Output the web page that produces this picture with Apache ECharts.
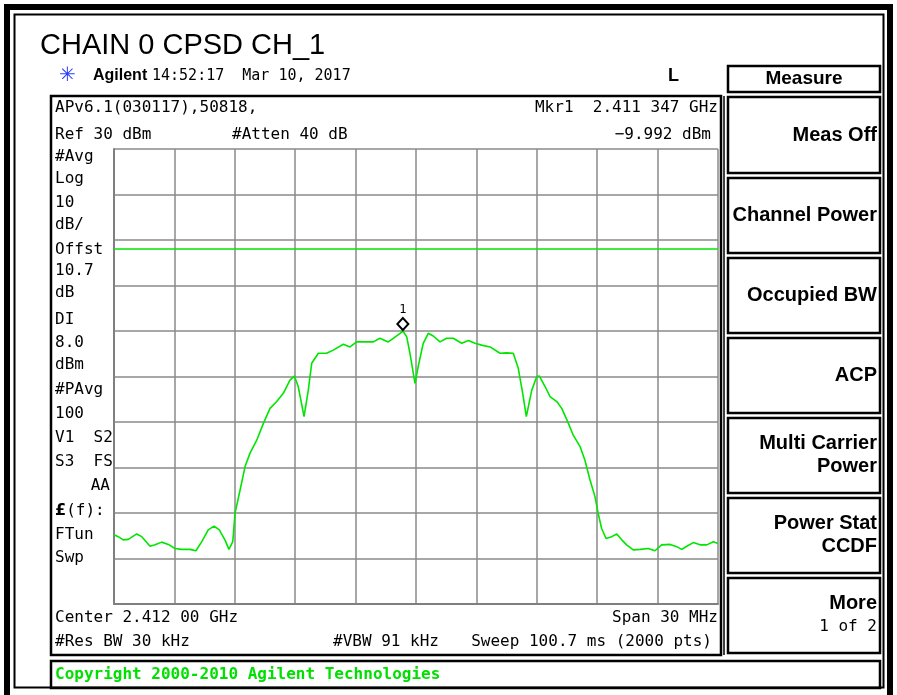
<!DOCTYPE html>
<html><head><meta charset="utf-8">
<script src="https://cdn.jsdelivr.net/npm/echarts@6/dist/echarts.min.js"></script>
<style>html,body{margin:0;padding:0;background:#fff}#c{width:897px;height:695px}</style>
</head><body><div id="c"></div>
<script>
// ---- data ----
const titleText = 'CHAIN 0 CPSD CH_1';
const refLevelDbm = 30;          // top of screen
const dbPerDiv = 10;
const spanMHz = 30;              // 2.397 .. 2.427 GHz
const displayLineDbm = 8.0;
const markerFreqMHz = 14.347;    // 2.411 347 GHz relative to start
const markerLevelDbm = -9.992;
const freqOffsetMHz = [0.00,0.21,0.46,0.71,1.13,1.38,1.79,2.04,2.37,2.70,
  3.03,3.36,3.77,4.07,4.36,4.68,4.97,5.23,5.51,5.71,
  5.90,6.01,6.26,6.51,6.75,7.09,7.42,7.75,8.08,8.41,
  8.74,8.96,9.15,9.44,9.65,9.82,10.15,10.56,10.89,11.39,
  11.72,12.05,12.55,12.88,13.21,13.62,13.87,14.21,14.35,14.54,
  14.70,14.95,15.11,15.36,15.61,15.86,16.19,16.52,16.85,17.27,
  17.60,17.93,18.26,18.68,19.17,19.50,19.83,20.08,20.30,20.48,
  20.75,21.00,21.13,21.41,21.66,21.99,22.24,22.57,22.81,23.15,
  23.39,23.64,23.89,24.05,24.22,24.44,24.72,24.97,25.22,25.46,
  25.79,26.13,26.54,26.87,27.20,27.62,27.95,28.20,28.45,28.77,
  29.11,29.44,29.77,30.00];
const levelDbm = [-54.8,-55.2,-55.9,-55.8,-54.6,-55.2,-57.3,-57.0,-56.4,-56.9,
  -57.8,-58.0,-58.0,-58.3,-56.3,-53.7,-52.9,-53.7,-55.9,-58.0,
  -56.3,-50.1,-45.0,-39.8,-36.9,-34.0,-30.3,-27.0,-25.5,-23.7,
  -20.8,-19.9,-22.2,-28.8,-23.0,-17.1,-14.9,-14.9,-14.2,-12.9,
  -13.5,-12.4,-12.4,-12.4,-11.6,-12.4,-11.6,-10.5,-9.99,-11.3,
  -14.9,-21.5,-17.8,-12.7,-10.5,-11.1,-12.4,-11.6,-11.6,-12.7,
  -12.1,-12.7,-13.1,-13.5,-14.9,-14.8,-14.9,-18.2,-23.7,-28.8,
  -23.0,-20.0,-19.9,-22.2,-24.4,-25.5,-27.0,-30.3,-32.9,-35.4,
  -38.4,-42.7,-46.4,-50.1,-53.4,-55.6,-55.2,-54.6,-55.9,-57.0,
  -58.1,-58.0,-57.8,-58.3,-57.0,-56.9,-57.4,-58.0,-57.3,-56.5,
  -57.0,-57.0,-56.3,-56.7];
const leftLabels = [['#Avg',157],['Log',179],['10',203],['dB/',225],['Offst',250],['10.7',271],['dB',293],
  ['DI',320],['8.0',343],['dBm',365],['#PAvg',390],['100',414],['V1  S2',438],['S3  FS',462],['FTun',535],['Swp',558]];
const menuItems = [
  {lines:['Meas Off'], top:97, bottom:173},
  {lines:['Channel Power'], top:178, bottom:253},
  {lines:['Occupied BW'], top:258, bottom:333},
  {lines:['ACP'], top:338, bottom:413},
  {lines:['Multi Carrier','Power'], top:418, bottom:493},
  {lines:['Power Stat','CCDF'], top:498, bottom:573},
  {lines:['More','1 of 2'], top:578, bottom:653}
];
// ---- rendering ----
const MONO = '16px "DejaVu Sans Mono", "Liberation Mono", monospace';
const BOLD = 'bold 20px "Liberation Sans", Arial, sans-serif';
const g = [];
function txt(s, x, y, font, align, fill, extra){
  g.push(Object.assign({type:'text', x:x, y:y, z:10, style:{text:s, font:font, fill:fill||'#000', align:align||'left', verticalAlign:'middle'}}, extra||{}));
}
function rect(x, y, w, h, lw, color){
  g.push({type:'rect', z:5, shape:{x:x, y:y, width:w, height:h}, style:{fill:null, stroke:color||'#000', lineWidth:lw}});
}
function line(x1,y1,x2,y2,lw,color){
  g.push({type:'line', z:5, shape:{x1:x1,y1:y1,x2:x2,y2:y2}, style:{stroke:color||'#000', lineWidth:lw}});
}
// outer double border
rect(7, 7, 883, 693, 6);
rect(14.5, 14.5, 869, 673, 2);
// title
txt(titleText, 40, 46, '29px "Liberation Sans", Arial, sans-serif', 'left');
// header line
txt('\u2733', 59, 76, '20px "DejaVu Sans", sans-serif', 'left', '#2a3cff');
txt('Agilent', 93, 76, 'bold 16px "Liberation Sans", Arial, sans-serif', 'left');
txt('14:52:17  Mar 10, 2017', 152, 76, '15px "DejaVu Sans Mono", monospace', 'left');
txt('L', 679, 76, 'bold 18px "Liberation Sans", sans-serif', 'right');
// measure header box
rect(728, 66, 152, 26, 2.5);
txt('Measure', 804, 79, 'bold 19px "Liberation Sans", Arial, sans-serif', 'center');
// main frame
rect(51, 96, 670, 559, 2.5);
line(724, 96, 724, 655, 1.5);
txt('APv6.1(030117),50818,', 55, 108, MONO, 'left');
txt('Ref 30 dBm', 55, 135, MONO, 'left');
txt('#Atten 40 dB', 232, 135, MONO, 'left');
txt('Mkr1  2.411 347 GHz', 718, 108, MONO, 'right');
txt('\u22129.992 dBm', 711, 135, MONO, 'right');
leftLabels.forEach(function(l){ txt(l[0], 55, l[1], MONO, 'left'); });
txt('AA', 110, 486, MONO, 'right');
g.push({type:'text', x:55, y:511, z:10, style:{text:'{b|\u00a3}(f):', font:MONO, fill:'#000', verticalAlign:'middle',
  rich:{b:{fontWeight:'bold', fontSize:16, fontFamily:'DejaVu Sans'}}}});
txt('Center 2.412 00 GHz', 55, 618, MONO, 'left');
txt('#Res BW 30 kHz', 55, 642, MONO, 'left');
txt('#VBW 91 kHz', 333, 642, MONO, 'left');
txt('Span 30 MHz', 718, 618, MONO, 'right');
txt('Sweep 100.7 ms (2000 pts)', 712, 642, MONO, 'right');
// copyright box
rect(51, 661, 829, 27, 2.5);
txt('Copyright 2000-2010 Agilent Technologies', 55, 675, 'bold 16px "DejaVu Sans Mono", monospace', 'left', '#00e000');
// menu
menuItems.forEach(function(m){
  rect(728, m.top, 152, m.bottom - m.top, 2.5);
  const mid = (m.top + m.bottom) / 2;
  if (m.lines.length === 1) {
    txt(m.lines[0], 877, mid, BOLD, 'right');
  } else {
    txt(m.lines[0], 877, mid - 12, BOLD, 'right');
    txt(m.lines[1], 877, mid + 11, m.lines[1] === '1 of 2' ? MONO : BOLD, 'right');
  }
});

const data = freqOffsetMHz.map(function(f, i){ return [f, levelDbm[i]]; });
const chart = echarts.init(document.getElementById('c'), null, {renderer:'canvas', width:897, height:695});
chart.setOption({
  backgroundColor:'#fff',
  animation:false,
  grid:{left:114, top:149, width:604, height:455, show:false},
  xAxis:{type:'value', min:0, max:spanMHz, interval:spanMHz/10,
    axisLine:{show:true, onZero:false, lineStyle:{color:'#7f7f7f', width:2}},
    axisTick:{show:false}, axisLabel:{show:false},
    splitLine:{show:true, lineStyle:{color:'#8a8a8a', width:1.5}}},
  yAxis:{type:'value', min:refLevelDbm - 10*dbPerDiv, max:refLevelDbm, interval:dbPerDiv,
    axisLine:{show:true, onZero:false, lineStyle:{color:'#7f7f7f', width:2}},
    axisTick:{show:false}, axisLabel:{show:false},
    splitLine:{show:true, lineStyle:{color:'#8a8a8a', width:1.5}}},
  series:[{
    type:'line', data:data, showSymbol:false, smooth:false,
    lineStyle:{color:'#00e600', width:1.6},
    markLine:{silent:true, symbol:['none','none'], label:{show:false},
      lineStyle:{color:'#00e600', width:1.5, type:'solid'},
      data:[{yAxis:displayLineDbm}]},
    markPoint:{symbol:'diamond', symbolSize:[11,12], symbolOffset:[0,-7],
      itemStyle:{color:'#fff', borderColor:'#000', borderWidth:2},
      label:{show:true, position:'top', distance:1, formatter:'1', color:'#000', fontFamily:'DejaVu Sans Mono', fontSize:12},
      data:[{coord:[markerFreqMHz, markerLevelDbm]}]}
  }],
  graphic:g
});
</script></body></html>
